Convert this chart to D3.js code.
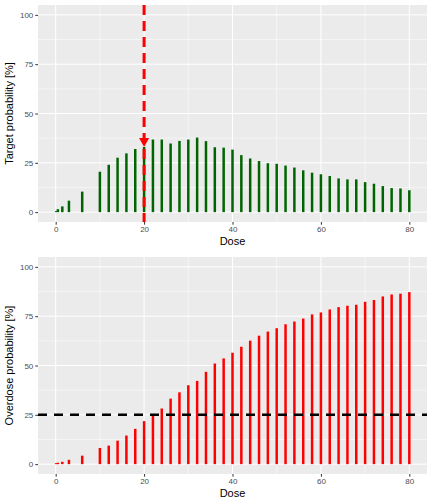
<!DOCTYPE html><html><head><script src="https://cdn.jsdelivr.net/npm/d3@7"></script>
<style>body{margin:0;background:#fff}text{font-family:"Liberation Sans",Arial,sans-serif}</style></head><body><svg id="c" width="432" height="504"></svg>
<script>
const doses=[0.1,0.5,1.5,3,6,10,12,14,16,18,20,22,24,26,28,30,32,34,36,38,40,42,44,46,48,50,52,54,56,58,60,62,64,66,68,70,72,74,76,78,80];
const target=[0.5,1.5,2.9,5.8,10.4,20.5,24,27.6,29.8,32,33,36.8,36.8,34.8,36.1,36.8,37.8,36,32.9,32.7,31.7,28.9,27.2,25.9,24.8,24.5,23.6,22.6,21.2,20,19.2,18.3,17.1,16.6,16.6,15.2,14.4,13.2,12.2,12,11.1];
const overdose=[0.5,0.7,1.2,2.2,4.3,8.2,9.4,11.9,14.5,17.9,21.8,24.5,28.2,33.2,36.4,40,42.2,46.8,51,53.6,56.5,59.5,62.6,65.1,67.2,68.9,70.9,72.3,73.8,75.9,76.9,78.4,79.6,80.3,80.8,82.3,83.2,85,86,86.4,87.2];
const yTicks=[0,25,50,75,100], xTicks=[0,20,40,60,80];
const recDose=20, targetRec=33, overdoseLimit=25;
const svg=d3.select("#c");
const L=38,R=427;
const x=d3.scaleLinear().domain([-4,84]).range([L,R]);
function panel(top,bottom,vals,color,ylab){
  const y=d3.scaleLinear().domain([-5,105]).range([bottom,top]);
  const g=svg.append("g");
  g.append("rect").attr("x",L).attr("y",top).attr("width",R-L).attr("height",bottom-top).attr("fill","#ebebeb");
  const minor=[12.5,37.5,62.5,87.5], xminor=[10,30,50,70];
  minor.forEach(v=>g.append("line").attr("x1",L).attr("x2",R).attr("y1",y(v)).attr("y2",y(v)).attr("stroke","#fff").attr("stroke-width",0.5));
  xminor.forEach(v=>g.append("line").attr("y1",top).attr("y2",bottom).attr("x1",x(v)).attr("x2",x(v)).attr("stroke","#fff").attr("stroke-width",0.5));
  yTicks.forEach(v=>g.append("line").attr("x1",L).attr("x2",R).attr("y1",y(v)).attr("y2",y(v)).attr("stroke","#fff").attr("stroke-width",1));
  xTicks.forEach(v=>g.append("line").attr("y1",top).attr("y2",bottom).attr("x1",x(v)).attr("x2",x(v)).attr("stroke","#fff").attr("stroke-width",1));
  g.selectAll(".b").data(doses).join("line").attr("x1",d=>x(d)).attr("x2",d=>x(d)).attr("y1",y(0)).attr("y2",(d,i)=>y(vals[i])).attr("stroke",color).attr("stroke-width",2.5);
  const ya=d3.axisLeft(y).tickValues(yTicks).tickSize(2.7).tickPadding(2);
  const ga=g.append("g").attr("transform",`translate(${L},0)`).call(ya);
  const xa=d3.axisBottom(x).tickValues(xTicks).tickSize(2.7).tickPadding(2);
  const gx=g.append("g").attr("transform",`translate(0,${bottom})`).call(xa);
  [ga,gx].forEach(a=>{a.select(".domain").remove();a.selectAll("line").attr("stroke","#333");a.selectAll("text").attr("fill","#4d4d4d").attr("font-size",8);});
  g.append("text").attr("x",(L+R)/2).attr("y",bottom+23).attr("text-anchor","middle").attr("font-size",11).text("Dose");
  g.append("text").attr("transform",`translate(13,${(top+bottom)/2}) rotate(-90)`).attr("text-anchor","middle").attr("font-size",11).text(ylab);
  return y;
}
const y1=panel(5,222,target,"#006400","Target probability [%]");
const y2=panel(257,474,overdose,"#ff0000","Overdose probability [%]");
svg.append("line").attr("x1",x(recDose)).attr("x2",x(recDose)).attr("y1",5).attr("y2",222).attr("stroke","#ff0000").attr("stroke-width",3).attr("stroke-dasharray","10,6");
const ay=y1(targetRec);
svg.append("path").attr("d",`M${x(recDose)-5},${ay-9}L${x(recDose)+5},${ay-9}L${x(recDose)},${ay}Z`).attr("fill","#ff0000");
svg.append("line").attr("x1",L).attr("x2",R).attr("y1",y2(overdoseLimit)).attr("y2",y2(overdoseLimit)).attr("stroke","#000").attr("stroke-width",2.5).attr("stroke-dasharray","9,7");
</script></body></html>
